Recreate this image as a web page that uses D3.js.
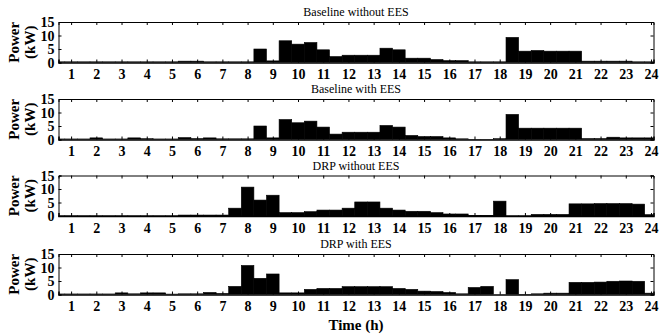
<!DOCTYPE html>
<html>
<head>
<meta charset="utf-8">
<script src="https://cdn.jsdelivr.net/npm/d3@7"></script>
<style>
  body { margin: 0; background: #fff; }
  text { font-family: "Liberation Serif", "Times New Roman", serif; fill: #000; }
</style>
</head>
<body>
<div id="chart"></div>
<script>
// half-hour slots, bar centres in hours
const slots = d3.range(1, 49).map(i => i * 0.5);

const baselineNoEES = [0.25, 0.25, 0.25, 0.25, 0.25, 0.25, 0.25, 0.25, 0.25, 0.25, 0.5, 0.5, 0.25, 0.25, 0.25, 0.25,
  5.0, 0.6, 8.05, 6.8, 7.4, 4.7, 2.2, 2.7, 2.7, 2.7, 5.3, 4.7, 1.6, 1.6, 1.1, 0.7,
  0.7, 0.25, 0.25, 0.25, 9.3, 4.2, 4.45, 4.2, 4.2, 4.2, 0.5, 0.5, 0.5, 0.5, 0.25, 0.25];

const baselineEES = [0.2, 0.2, 0.2, 0.6, 0.2, 0.2, 0.6, 0.3, 0.2, 0.2, 0.7, 0.35, 0.6, 0.25, 0.25, 0.25,
  5.0, 0.6, 7.4, 6.2, 6.8, 4.6, 2.0, 2.7, 2.7, 2.7, 5.2, 4.6, 1.5, 1.1, 1.1, 0.6,
  0.25, 0.05, 0.05, 0.3, 9.3, 4.2, 4.2, 4.2, 4.2, 4.2, 0.35, 0.35, 0.85, 0.6, 0.6, 0.6];

const drpNoEES = [0.1, 0.1, 0.1, 0.1, 0.1, 0.1, 0.1, 0.1, 0.1, 0.1, 0.35, 0.35, 0.35, 0.35, 2.9, 10.7,
  5.9, 7.7, 1.25, 1.25, 1.6, 2.2, 2.2, 2.9, 5.2, 5.2, 2.9, 2.2, 1.75, 1.75, 1.25, 0.75,
  0.75, 0.25, 0.25, 5.5, 0.1, 0.1, 0.6, 0.6, 0.6, 4.5, 4.5, 4.6, 4.6, 4.6, 4.4, 0.5];

const drpEES = [0.2, 0.2, 0.2, 0.2, 0.2, 0.6, 0.25, 0.6, 0.6, 0.15, 0.25, 0.25, 0.75, 0.4, 3.0, 10.75,
  6.0, 7.6, 0.6, 0.6, 1.9, 2.25, 2.25, 2.9, 2.9, 2.9, 2.9, 2.25, 1.9, 1.25, 1.1, 0.75,
  0.25, 2.6, 3.0, 0.0, 5.5, 0.05, 0.25, 0.5, 0.5, 4.5, 4.5, 4.6, 4.9, 5.0, 4.9, 0.5];

const panels = [
  { title: "Baseline without EES", values: baselineNoEES },
  { title: "Baseline with EES", values: baselineEES },
  { title: "DRP without EES", values: drpNoEES },
  { title: "DRP with EES", values: drpEES }
];

const hourTicks = d3.range(1, 25);
const powerTicks = [0, 5, 10, 15];

const width = 659, height = 336;
const left = 58.5, right = 653.5;
const panelTops = [22, 99, 175.5, 254];
const panelH = 40.5;

const svg = d3.select("#chart").append("svg")
  .attr("width", width)
  .attr("height", height);

const x = d3.scaleLinear().domain([0.5, 24.1]).range([left, right]);
const barW = x(1) - x(0.5);

panels.forEach(function (p, i) {
  const top = panelTops[i];
  const y = d3.scaleLinear().domain([0, 15]).range([top + panelH, top]);

  const g = svg.append("g");

  g.append("clipPath").attr("id", "clip" + i)
    .append("rect")
    .attr("x", left).attr("y", top)
    .attr("width", right - left).attr("height", panelH);

  // bars
  g.append("g").attr("clip-path", `url(#clip${i})`)
    .selectAll("rect")
    .data(p.values)
    .enter().append("rect")
    .attr("x", (d, j) => x(slots[j]) - barW / 2)
    .attr("width", barW)
    .attr("y", d => y(d))
    .attr("height", d => y(0) - y(d))
    .attr("fill", "#000")
    .attr("stroke", "#000")
    .attr("stroke-width", 0.6);

  // axes with inward ticks
  const bottom = g.append("g")
    .attr("transform", `translate(0,${top + panelH})`)
    .call(d3.axisBottom(x).tickValues(hourTicks).tickSize(-3).tickPadding(7).tickFormat(d3.format("d")));
  const topAx = g.append("g")
    .attr("transform", `translate(0,${top})`)
    .call(d3.axisTop(x).tickValues(hourTicks).tickSize(-3).tickFormat(""));
  const leftAx = g.append("g")
    .attr("transform", `translate(${left},0)`)
    .call(d3.axisLeft(y).tickValues(powerTicks).tickSize(-3).tickPadding(4));
  const rightAx = g.append("g")
    .attr("transform", `translate(${right},0)`)
    .call(d3.axisRight(y).tickValues(powerTicks).tickSize(-3).tickFormat(""));

  [bottom, topAx, leftAx, rightAx].forEach(function (a) {
    a.select(".domain").attr("stroke", "#000").attr("stroke-width", 1);
    a.selectAll(".tick line").attr("stroke", "#000");
  });
  bottom.select(".domain").attr("stroke-width", 1.5);
  bottom.selectAll("text")
    .style("font-family", "Liberation Serif")
    .style("font-size", "14px")
    .style("font-weight", "bold");
  leftAx.selectAll("text")
    .style("font-family", "Liberation Serif")
    .style("font-size", "14px")
    .style("font-weight", "bold")
    .attr("dy", "0.35em");

  // panel title
  g.append("text")
    .attr("x", (left + right) / 2)
    .attr("y", top - 6)
    .attr("text-anchor", "middle")
    .style("font-size", "12px")
    .text(p.title);

  // y label
  const cy = top + panelH / 2;
  g.append("text")
    .attr("transform", `translate(19,${cy}) rotate(-90)`)
    .attr("text-anchor", "middle")
    .style("font-size", "15px")
    .style("font-weight", "bold")
    .text("Power");
  g.append("text")
    .attr("transform", `translate(35,${cy}) rotate(-90)`)
    .attr("text-anchor", "middle")
    .style("font-size", "15px")
    .style("font-weight", "bold")
    .text("(kW)");
});

svg.append("text")
  .attr("x", (left + right) / 2)
  .attr("y", 330)
  .attr("text-anchor", "middle")
  .style("font-size", "15px")
  .style("font-weight", "bold")
  .text("Time (h)");
</script>
</body>
</html>
